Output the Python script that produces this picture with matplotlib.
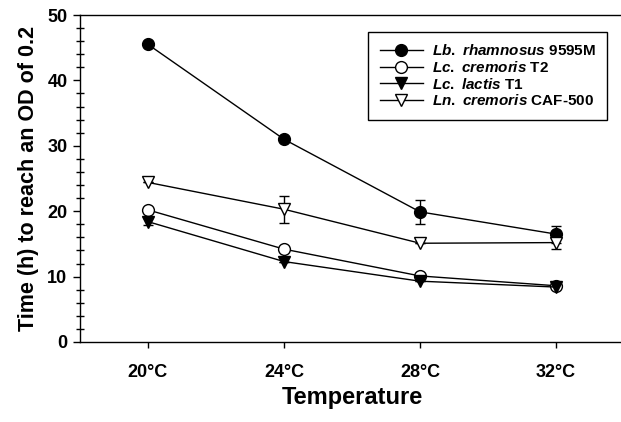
import matplotlib
matplotlib.use("Agg")
import matplotlib.pyplot as plt
from matplotlib.ticker import MultipleLocator
from matplotlib.lines import Line2D

plt.rcParams['font.family'] = ['Liberation Sans', 'DejaVu Sans']
plt.rcParams['mathtext.fontset'] = 'custom'
plt.rcParams['mathtext.it'] = 'Liberation Sans:italic:bold'
plt.rcParams['mathtext.rm'] = 'Liberation Sans:bold'

temps = [20, 24, 28, 32]
tick_labels = ["20°C", "24°C", "28°C", "32°C"]

lb_rhamnosus = [45.5, 31.0, 19.9, 16.5]
lb_rhamnosus_err = [0.0, 0.0, 1.8, 1.3]
lc_cremoris = [20.2, 14.2, 10.1, 8.6]
lc_cremoris_err = [0.0, 0.0, 0.0, 0.0]
lc_lactis = [18.4, 12.3, 9.3, 8.4]
lc_lactis_err = [0.5, 0.0, 0.0, 0.0]
ln_cremoris = [24.4, 20.3, 15.1, 15.2]
ln_cremoris_err = [0.0, 2.1, 0.0, 1.0]

labels = [r"$\mathit{Lb.\ rhamnosus}$ 9595M",
          r"$\mathit{Lc.\ cremoris}$ T2",
          r"$\mathit{Lc.\ lactis}$ T1",
          r"$\mathit{Ln.\ cremoris}$ CAF-500"]

fig = plt.figure(figsize=(6.21, 4.22), dpi=100)
ax = fig.add_axes([80/621, 80/422, 544/621, 327/422])

series = [(lb_rhamnosus, lb_rhamnosus_err, 'o', 'black'),
          (lc_cremoris, lc_cremoris_err, 'o', 'white'),
          (lc_lactis, lc_lactis_err, 'v', 'black'),
          (ln_cremoris, ln_cremoris_err, 'v', 'white')]
handles = []
for (vals, err, m, fc), lab in zip(series, labels):
    ax.errorbar(temps, vals, yerr=err, marker=m, mfc=fc, mec='black', mew=1.0,
                color='black', lw=1.0, ms=8.5, capsize=3.5, elinewidth=1.0, capthick=1.0)
    handles.append(Line2D([], [], color='black', lw=1.0, marker=m, mfc=fc,
                          mec='black', mew=1.0, ms=8.5, label=lab))

ax.set_xlim(18, 34)
ax.set_ylim(0, 50)
ax.set_xticks(temps)
ax.set_xticklabels(tick_labels, fontsize=13, fontweight='bold')
ax.yaxis.set_major_locator(MultipleLocator(10))
ax.yaxis.set_minor_locator(MultipleLocator(2))
for lbl in ax.get_yticklabels():
    lbl.set_fontsize(13)
    lbl.set_fontweight('bold')
ax.tick_params(axis='x', direction='out', length=4.5, width=1, pad=11)
ax.tick_params(axis='y', which='major', direction='out', length=5, width=1, pad=4)
ax.tick_params(axis='y', which='minor', direction='inout', length=6, width=1)
ax.spines['right'].set_visible(False)
for s in ['left', 'bottom', 'top']:
    ax.spines[s].set_linewidth(1.0)

ax.set_xlabel("Temperature", fontsize=17, fontweight='bold', labelpad=4)
ax.set_ylabel("Time (h) to reach an OD of 0.2", fontsize=15.5, fontweight='bold', labelpad=6)

leg = ax.legend(handles=handles, loc='upper right', bbox_to_anchor=(0.969, 0.948),
                borderaxespad=0, fancybox=False, edgecolor='black', framealpha=1,
                prop={'size': 11, 'weight': 'bold'}, handlelength=2.8,
                handletextpad=0.6, labelspacing=0.1, borderpad=0.75)
leg.get_frame().set_linewidth(1.0)

fig.savefig("out.png", dpi=100)
